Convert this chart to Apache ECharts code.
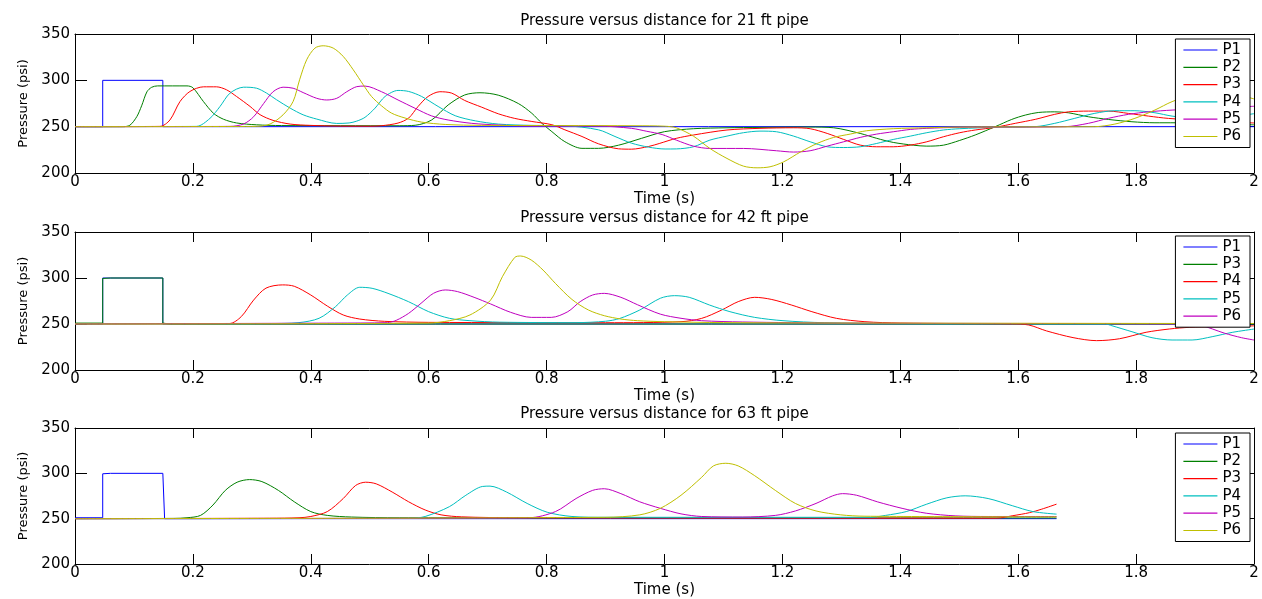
<!DOCTYPE html>
<html><head><meta charset="utf-8">
<script src="https://cdn.jsdelivr.net/npm/echarts@6/dist/echarts.min.js"></script>
<style>html,body{margin:0;padding:0;background:#fff}#c{width:1262px;height:599px}</style>
</head><body><div id="c"></div>
<script>
// ---------- text ----------
const titles = ['Pressure versus distance for 21 ft pipe', 'Pressure versus distance for 42 ft pipe', 'Pressure versus distance for 63 ft pipe'];
const xName = 'Time (s)';
const yName = 'Pressure (psi)';
const xRange = [0, 2], xStep = 0.2;
const yRange = [200, 350], yStep = 50;

// ---------- 21 ft pipe ----------
const p21_P1 = [[0,250],[0.047,250],[0.047,300],[0.149,300],[0.149,250],[2,250]];
const p21_P2 = [[0,250],[0.08,250],[0.093,251.5],[0.105,261],[0.113,272.5],[0.122,287.6],[0.13,292.5],[0.14,294],[0.19,294],[0.2,292],[0.218,277],[0.235,264.4],[0.252,258],[0.274,254],[0.308,252],[0.35,251.2],[0.55,251],[0.577,251.5],[0.605,257.2],[0.633,273.4],[0.661,284.2],[0.687,286.6],[0.718,284],[0.752,275],[0.775,264.4],[0.792,253.6],[0.809,244.6],[0.831,233.8],[0.86,226.6],[0.888,226.6],[0.922,230],[0.961,237.4],[1.0,244.6],[1.049,247.8],[1.106,248.8],[1.162,249.2],[1.247,249.6],[1.287,248.8],[1.332,242.7],[1.36,237.4],[1.388,233],[1.422,230],[1.445,229],[1.473,230],[1.5,235],[1.527,241],[1.561,250],[1.589,257.8],[1.612,262.5],[1.634,265.3],[1.662,266],[1.685,265],[1.719,260.7],[1.753,257.8],[1.793,255.3],[1.832,254.2],[1.866,254.2],[1.93,253],[2,252]];
const p21_P3 = [[0,250],[0.144,250.3],[0.161,257.2],[0.178,277],[0.195,288],[0.218,293],[0.24,293],[0.257,289.8],[0.274,282.6],[0.297,271.8],[0.314,262.9],[0.336,256.8],[0.365,252.8],[0.399,251.4],[0.45,250.6],[0.5,250.5],[0.52,251],[0.548,253.9],[0.566,259.3],[0.582,271.8],[0.599,282.6],[0.619,287.7],[0.639,286.2],[0.661,278.3],[0.69,271],[0.718,263.9],[0.746,258.9],[0.775,255.6],[0.809,252.1],[0.831,246.6],[0.86,239.4],[0.888,231.5],[0.922,226.1],[0.944,225.7],[0.973,228.6],[0.992,232],[1.02,237.4],[1.049,241],[1.106,246.4],[1.162,248.2],[1.219,248.8],[1.247,247.8],[1.276,242.7],[1.304,236.2],[1.332,230.1],[1.36,228.3],[1.388,228.3],[1.417,230.1],[1.445,233.7],[1.473,239.1],[1.501,243.5],[1.527,246.4],[1.561,249.3],[1.595,253.6],[1.629,257.9],[1.662,263.3],[1.685,266],[1.719,266.8],[1.753,266.8],[1.787,264.3],[1.821,261.4],[1.855,258.9],[1.93,256],[2,254]];
const p21_P4 = [[0,250],[0.206,250.3],[0.229,259],[0.246,271.8],[0.263,286.2],[0.286,292.6],[0.308,291.5],[0.325,286.2],[0.342,279],[0.365,270],[0.387,262.8],[0.41,258.2],[0.444,253.5],[0.465,254],[0.478,256],[0.492,260.1],[0.509,270],[0.526,282.6],[0.548,289.1],[0.566,288],[0.588,282.6],[0.616,271.8],[0.645,261.8],[0.679,256.3],[0.718,252.8],[0.775,251.4],[0.831,251],[0.888,246.6],[0.916,239.4],[0.944,232.2],[0.973,227.9],[1.001,225.9],[1.02,226],[1.049,228.3],[1.077,235.5],[1.106,239.8],[1.134,243.5],[1.162,245.2],[1.19,244.5],[1.219,239.8],[1.247,233.7],[1.276,228.3],[1.304,227.5],[1.332,228.3],[1.36,231.9],[1.388,236.2],[1.417,239.8],[1.445,243.5],[1.473,246.4],[1.501,247.8],[1.561,249.3],[1.629,250],[1.662,253.6],[1.696,259],[1.73,264.4],[1.764,267.2],[1.798,267.2],[1.832,265],[1.861,261.4],[1.9,259],[1.95,260],[2,264]];
const p21_P5 = [[0,250],[0.263,250.3],[0.286,252.9],[0.303,260.7],[0.32,275],[0.336,287.7],[0.353,292.6],[0.37,291.5],[0.387,286.8],[0.41,280.6],[0.427,278.8],[0.444,280.6],[0.461,287.7],[0.478,293.2],[0.492,293.8],[0.52,287.7],[0.548,278.8],[0.577,269.8],[0.605,261.6],[0.633,257.2],[0.673,253.6],[0.718,251.8],[0.775,250.7],[0.888,250.7],[0.944,248.2],[0.97,245],[0.996,241.5],[1.02,235.5],[1.049,229],[1.077,226.5],[1.134,226.5],[1.19,224],[1.219,222.6],[1.247,224],[1.276,229],[1.304,233.7],[1.332,238.4],[1.36,242],[1.388,244.5],[1.417,247],[1.445,248.2],[1.501,249.3],[1.68,250],[1.719,253.6],[1.753,259],[1.787,263.3],[1.821,266],[1.861,267.9],[1.93,270],[2,272]];
const p21_P6 = [[0,250],[0.308,250.3],[0.331,252.9],[0.353,262.8],[0.37,277.2],[0.381,300.6],[0.393,322.2],[0.407,334.8],[0.421,337.3],[0.438,334.8],[0.455,325.8],[0.472,311.4],[0.489,295.2],[0.503,282.6],[0.52,272.5],[0.537,264.6],[0.56,259.3],[0.588,254.9],[0.628,252.4],[0.69,251.4],[0.95,251],[1.0,250.5],[1.02,248.8],[1.049,239.8],[1.077,226.5],[1.106,215.7],[1.134,207.4],[1.157,205.6],[1.179,206.7],[1.202,212],[1.231,222.8],[1.259,231.9],[1.287,238.4],[1.315,242],[1.343,245.6],[1.388,247.8],[1.445,248.8],[1.501,249.6],[1.73,250],[1.764,252.8],[1.798,259],[1.832,268],[1.861,277],[1.9,285],[1.95,286],[2,280]];

// ---------- 42 ft pipe ----------
const p42_P1 = [[0,250],[0.047,250],[0.047,300],[0.149,300],[0.149,250],[2,250]];
const p42_P3 = [[0,251],[0.047,251],[0.047,299.5],[0.06,300],[0.149,300],[0.149,251],[0.16,250],[2,250]];
const p42_P4 = [[0,250],[0.262,250.5],[0.282,258],[0.303,276],[0.324,289],[0.352,292.5],[0.372,291],[0.4,281.5],[0.428,269.5],[0.455,259.8],[0.483,255.4],[0.525,252.9],[0.6,251.8],[0.9,251.4],[1.028,252.5],[1.063,256.1],[1.097,265.2],[1.125,274.3],[1.153,279],[1.181,276.8],[1.215,270.7],[1.25,263.4],[1.292,256.1],[1.34,252.5],[1.4,251],[1.59,250],[1.618,248.9],[1.648,242.5],[1.693,235.2],[1.733,231.9],[1.772,234],[1.817,241],[1.857,244.6],[1.891,246.4],[1.93,247],[1.97,247.5],[2,248]];
const p42_P5 = [[0,250],[0.33,250.5],[0.38,251.5],[0.414,256.2],[0.442,268.9],[0.462,281.5],[0.483,289.9],[0.504,288.8],[0.531,283.3],[0.566,274.2],[0.6,263.4],[0.635,256.2],[0.67,253.6],[0.72,252],[0.85,251.5],[0.9,253],[0.924,256],[0.958,265.2],[0.993,278],[1.017,280.8],[1.042,279],[1.076,270.7],[1.111,263.4],[1.153,257.2],[1.201,253.6],[1.271,251.4],[1.4,250.5],[1.748,250],[1.759,248.1],[1.793,241.6],[1.827,235.1],[1.861,232.6],[1.895,232.6],[1.929,236.2],[1.963,240.9],[2,244.5]];
const p42_P6 = [[0,250],[0.44,251],[0.53,251.5],[0.545,254],[0.566,261.6],[0.587,272.5],[0.608,283.3],[0.628,287],[0.649,285.2],[0.677,279],[0.705,271.8],[0.739,262.7],[0.774,257.2],[0.808,257.2],[0.836,263.4],[0.857,274.3],[0.878,281.5],[0.898,283.3],[0.926,279],[0.954,271],[0.993,260.7],[1.028,256.2],[1.063,253.6],[1.132,252.2],[1.3,251],[1.88,250],[1.91,248.5],[1.95,240],[1.979,235.1],[2,232.6]];
const p42_P7 = [[0,250],[0.6,251],[0.635,253.6],[0.67,259.8],[0.705,276],[0.725,301.4],[0.746,322.4],[0.756,323.9],[0.774,319.5],[0.794,308.6],[0.815,294.1],[0.843,276.7],[0.871,265.2],[0.898,259],[0.926,255.4],[0.954,253.6],[1.0,252.5],[1.1,251.5],[1.35,251],[2,250.5]];

// ---------- 63 ft pipe ----------
const p63_P1 = [[0,251],[0.047,251],[0.047,299.5],[0.06,300],[0.149,300],[0.152,250],[1.665,250]];
const p63_P2 = [[0,250],[0.168,250.3],[0.19,251],[0.213,253.6],[0.234,265],[0.255,281.2],[0.275,290.2],[0.296,293.1],[0.317,290.9],[0.345,281.2],[0.372,268.6],[0.4,257.8],[0.428,253.6],[0.469,251.8],[0.55,251],[1.665,250.8]];
const p63_P3 = [[0,250],[0.33,250.5],[0.38,251],[0.4,252.4],[0.428,257.8],[0.455,272.2],[0.476,286.6],[0.493,290.2],[0.511,288.4],[0.538,279.4],[0.566,268.6],[0.594,259.6],[0.621,254.2],[0.656,252],[0.75,251],[1.563,250.5],[1.591,253.3],[1.619,256.6],[1.64,260.5],[1.665,266]];
const p63_P4 = [[0,250],[0.57,250.5],[0.594,252.4],[0.635,263.2],[0.663,275.8],[0.691,285.5],[0.704,285.9],[0.732,279.4],[0.767,266.8],[0.801,257.1],[0.843,252.4],[0.9,251.5],[1.35,251.5],[1.375,253.6],[1.41,257.8],[1.444,265.8],[1.479,273],[1.51,275.2],[1.549,272.2],[1.59,264.3],[1.625,257.8],[1.665,255]];
const p63_P5 = [[0,250],[0.77,251],[0.815,257.8],[0.85,272.2],[0.878,281.2],[0.898,283],[0.926,277.6],[0.958,268.6],[0.993,261.4],[1.028,255.3],[1.063,252.4],[1.132,251.8],[1.188,253.6],[1.222,258.5],[1.257,266.8],[1.285,275.1],[1.302,277.6],[1.326,275.8],[1.361,268.6],[1.403,261.4],[1.444,256],[1.493,253.1],[1.549,252.4],[1.665,252.4]];
const p63_P6 = [[0,250],[0.9,251.5],[0.958,254.2],[0.993,261.4],[1.028,275.8],[1.063,295.6],[1.083,308.2],[1.104,311.1],[1.125,308.2],[1.153,297.4],[1.188,281.2],[1.222,266.8],[1.257,258.5],[1.299,254.2],[1.34,252.7],[1.665,252]];

// legend labels per subplot ('' = not in legend)
const labels21 = ['P1','P2','P3','P4','P5','P6'];
const labels42 = ['P1','P3','P4','P5','P6',''];
const labels63 = ['P1','P2','P3','P4','P5','P6'];

const COL = ['#0000ff','#008000','#ff0000','#00bfbf','#bf00bf','#bfbf00'];
const FONT = 'DejaVu Sans';

const subplots = [
  {data:[p21_P1,p21_P2,p21_P3,p21_P4,p21_P5,p21_P6], labels:labels21, step:[true,false,false,false,false,false]},
  {data:[p42_P1,p42_P3,p42_P4,p42_P5,p42_P6,p42_P7], labels:labels42, step:[true,true,false,false,false,false]},
  {data:[p63_P1,p63_P2,p63_P3,p63_P4,p63_P5,p63_P6], labels:labels63, step:[true,false,false,false,false,false]}
];
const gridTops = [34, 232, 428];
const gridHeights = [139, 138, 139];
const titleTops = [14, 211, 407];
const legendTops = [39, 236, 433];

const option = {animation:false, backgroundColor:'#fff', title:[], grid:[], xAxis:[], yAxis:[], legend:[], series:[]};
const axLine = {show:true, onZero:false, lineStyle:{color:'#000', width:1}};
subplots.forEach((sp, i) => {
  option.grid.push({left:75, right:8, top:gridTops[i], height:gridHeights[i]});
  option.title.push({text:titles[i], left:664.5, top:titleTops[i], textAlign:'center', padding:0,
    textStyle:{fontFamily:FONT, fontSize:15, fontWeight:'normal', color:'#000'}});
  option.xAxis.push({type:'value', gridIndex:i, min:xRange[0], max:xRange[1], interval:xStep, position:'bottom',
    name:xName, nameLocation:'middle', nameGap:19, nameTextStyle:{fontFamily:FONT, fontSize:15, color:'#000'},
    axisLine:axLine, axisTick:{inside:true, length:10, lineStyle:{color:'#000'}},
    axisLabel:{margin:2, color:'#000', fontFamily:FONT, fontSize:15}, splitLine:{show:false}});
  option.xAxis.push({type:'value', gridIndex:i, min:xRange[0], max:xRange[1], interval:xStep, position:'top',
    axisLine:axLine, axisTick:{inside:true, length:10, lineStyle:{color:'#000'}},
    axisLabel:{show:false}, splitLine:{show:false}});
  option.yAxis.push({type:'value', gridIndex:i, min:yRange[0], max:yRange[1], interval:yStep, position:'left',
    name:yName, nameLocation:'middle', nameGap:44, nameTextStyle:{fontFamily:FONT, fontSize:13, color:'#000'},
    axisLine:axLine, axisTick:{inside:true, length:12, lineStyle:{color:'#000'}},
    axisLabel:{margin:5, color:'#000', fontFamily:FONT, fontSize:15}, splitLine:{show:false}});
  option.yAxis.push({type:'value', gridIndex:i, min:yRange[0], max:yRange[1], interval:yStep, position:'right',
    axisLine:axLine, axisTick:{inside:true, length:12, lineStyle:{color:'#000'}},
    axisLabel:{show:false}, splitLine:{show:false}});
  const names = [];
  sp.data.forEach((d, j) => {
    const nm = 's' + i + '_' + (sp.labels[j] || ('extra' + j));
    if (sp.labels[j]) names.push(nm);
    option.series.push({type:'line', name:nm, xAxisIndex:2*i, yAxisIndex:2*i, data:d,
      symbol:'none', showSymbol:false, smooth: sp.step[j] ? false : 0.3,
      lineStyle:{width:1, color:COL[j]}, itemStyle:{color:COL[j]}, emphasis:{disabled:true}, silent:true});
  });
  option.legend.push({orient:'vertical', right:12, top:legendTops[i], data:names,
    formatter: n => n.split('_')[1], backgroundColor:'#fff', borderColor:'#000', borderWidth:1, borderRadius:0,
    padding:[3.5, 9, 3.5, 8], icon:'rect', itemWidth:34, itemHeight:1.2, itemGap:2.3, selectedMode:false,
    textStyle:{fontFamily:FONT, fontSize:15, lineHeight:15, color:'#000'}});
});

const chart = echarts.init(document.getElementById('c'), null, {renderer:'canvas'});
chart.setOption(option);
</script>
</body></html>
